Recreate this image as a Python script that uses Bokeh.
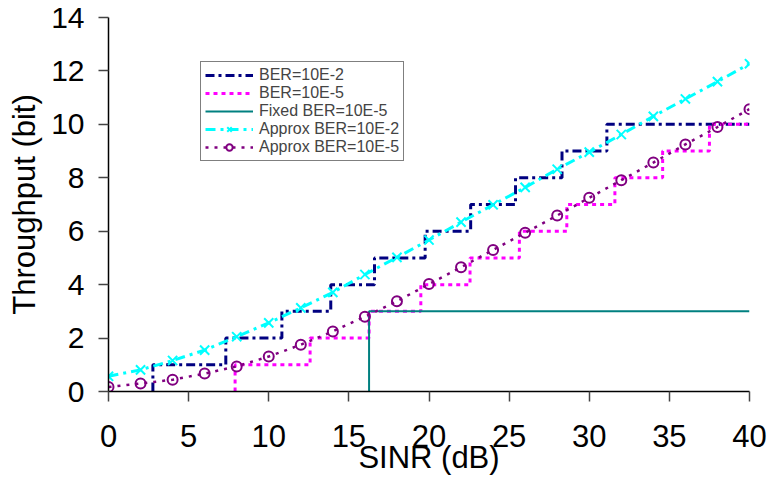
from bokeh.plotting import figure
from bokeh.models import Range1d, FixedTicker, Legend, LegendItem
from bokeh.embed import file_html
from bokeh.resources import INLINE

# ---- data ----
# step functions: x where each level starts, level value (first point = rise from 0)
ber2_x = [2.77, 2.77, 7.32, 10.82, 13.87, 16.6, 19.76, 22.6, 25.4, 28.3, 31.1, 40]
ber2_y = [0, 1, 2, 3, 4, 5, 6, 7, 8, 9, 10, 10]
ber5_x = [7.9, 7.9, 12.58, 16.26, 19.49, 22.56, 25.64, 28.6, 31.6, 34.58, 37.5, 40]
ber5_y = [0, 1, 2, 3, 4, 5, 6, 7, 8, 9, 10, 10]
fixed_x = [16.26, 16.26, 40]
fixed_y = [0, 3, 3]
sinr = [0, 2, 4, 6, 8, 10, 12, 14, 16, 18, 20, 22, 24, 26, 28, 30, 32, 34, 36, 38, 40]
approx2 = [0.57, 0.81, 1.16, 1.55, 2.05, 2.57, 3.13, 3.71, 4.38, 5.02, 5.67, 6.34,
           6.99, 7.64, 8.32, 8.96, 9.62, 10.3, 10.95, 11.6, 12.27]
approx5 = [0.17, 0.30, 0.44, 0.67, 0.94, 1.31, 1.75, 2.25, 2.80, 3.38, 4.02, 4.65,
           5.30, 5.94, 6.59, 7.25, 7.91, 8.57, 9.25, 9.90, 10.57]
x_ticks = [0, 5, 10, 15, 20, 25, 30, 35, 40]
y_ticks = [0, 2, 4, 6, 8, 10, 12, 14]

FONT = "Liberation Sans"

p = figure(width=772, height=489, output_backend="svg", toolbar_location=None,
           x_range=Range1d(0, 40), y_range=Range1d(0, 14),
           min_border_left=108, min_border_right=23, min_border_top=17,
           min_border_bottom=98)
p.outline_line_color = None
p.xgrid.grid_line_color = None
p.ygrid.grid_line_color = None

r_ber2 = p.step(ber2_x, ber2_y, mode="after", line_color="#000080", line_width=3,
                line_dash="9 4 3 4")
r_ber5 = p.step(ber5_x, ber5_y, mode="after", line_color="#FF00FF", line_width=3,
                line_dash="4 4")
r_fixed = p.line(fixed_x, fixed_y, line_color="#008080", line_width=2)
r_a2l = p.line(sinr, approx2, line_color="#00FFFF", line_width=3, line_dash="10 5 3 5")
r_a2m = p.scatter(sinr, approx2, marker="x", size=13, line_color="#00FFFF", line_width=2)
r_a5l = p.line(sinr, approx5, line_color="#800080", line_width=2.5, line_dash="3 6")
r_a5m = p.scatter(sinr, approx5, marker="circle", size=10, line_color="#800080",
                  fill_color=None, line_width=2)

for ax in (p.xaxis[0], p.yaxis[0]):
    ax.axis_line_color = "black"
    ax.axis_line_width = 1.5
    ax.major_tick_line_color = "#444444"
    ax.major_tick_line_width = 1.5
    ax.major_tick_out = 10
    ax.major_tick_in = 0
    ax.minor_tick_line_color = None
    ax.major_label_text_font = FONT
    ax.major_label_text_font_size = "31px"
    ax.major_label_text_color = "black"
    ax.axis_label_text_font = FONT
    ax.axis_label_text_font_size = "31px"
    ax.axis_label_text_font_style = "normal"
    ax.axis_label_text_color = "black"

p.yaxis[0].major_label_text_font_size = "30px"
p.xaxis[0].ticker = FixedTicker(ticks=x_ticks)
p.yaxis[0].ticker = FixedTicker(ticks=y_ticks)
p.xaxis[0].axis_label = "SINR (dB)"
p.yaxis[0].axis_label = "Throughput (bit)"
p.xaxis[0].major_label_standoff = 23
p.xaxis[0].axis_label_standoff = -10
p.yaxis[0].major_label_standoff = 14
p.yaxis[0].axis_label_standoff = 6

legend = Legend(items=[
    LegendItem(label="BER=10E-2", renderers=[r_ber2]),
    LegendItem(label="BER=10E-5", renderers=[r_ber5]),
    LegendItem(label="Fixed BER=10E-5", renderers=[r_fixed]),
    LegendItem(label="Approx BER=10E-2", renderers=[r_a2l, r_a2m]),
    LegendItem(label="Approx BER=10E-5", renderers=[r_a5l, r_a5m]),
], location=(92, 230))
legend.label_text_font = FONT
legend.label_text_font_size = "16px"
legend.label_height = 16
legend.glyph_height = 16
legend.glyph_width = 48
legend.spacing = 0
legend.padding = 4
legend.margin = 0
legend.label_standoff = 6
legend.border_line_color = "black"
legend.border_line_width = 1
legend.background_fill_alpha = 1
p.add_layout(legend)

open("out.html", "w").write(file_html(p, INLINE))
